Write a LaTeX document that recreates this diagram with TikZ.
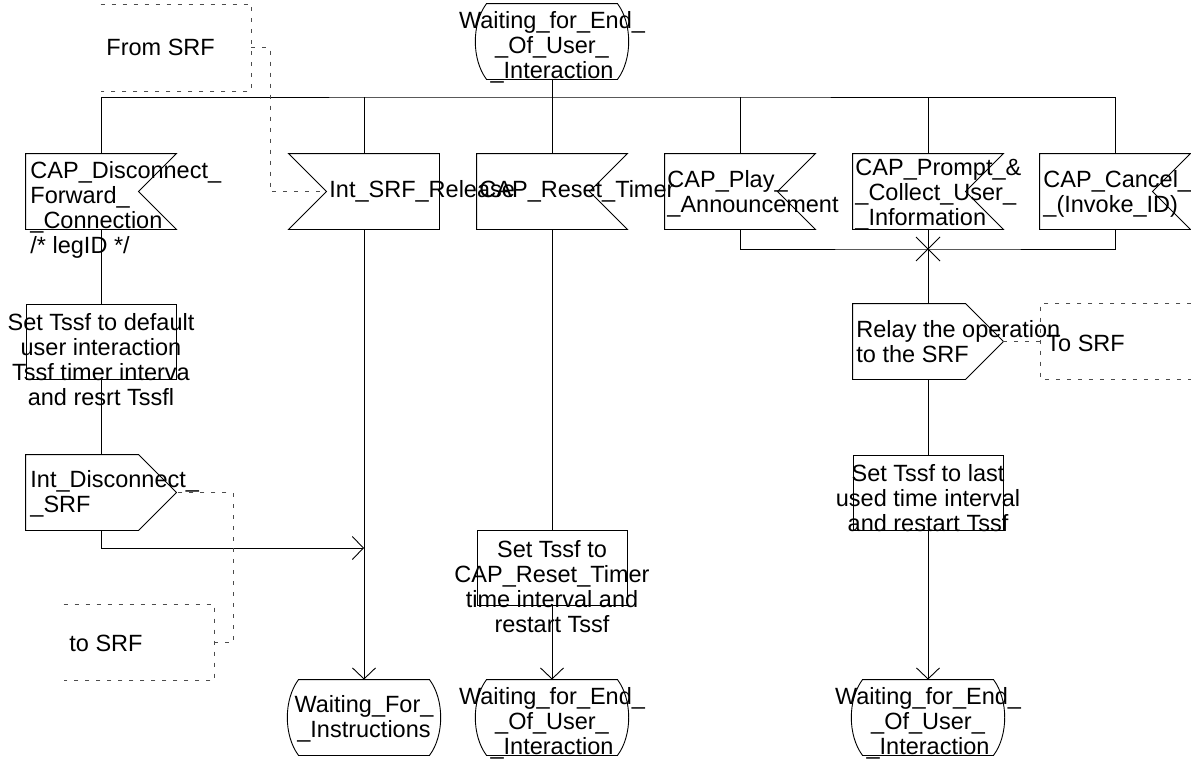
\documentclass[tikz,border=0pt]{standalone}
\usepackage{fontspec}
\setmainfont{Liberation Sans}
\usetikzlibrary{arrows.meta}

\tikzset{
  blk/.style={rectangle,minimum width=150pt,minimum height=75pt,inner sep=0pt},
  tsk/.style={blk,draw},
  txt/.style={inner sep=0pt,font=\fontsize{23.5}{25}\selectfont},
  cmt/.style={draw=black!70,dash pattern=on 4pt off 7pt},
  arr/.style={-{Straight Barb[length=11pt,width=23pt]}}
}

% outlines of the SDL symbols, drawn round a named blk node
\newcommand{\insigR}[1]{\draw (#1.north west) -- (#1.north east) -- ([xshift=-38pt]#1.east) -- (#1.south east) -- (#1.south west) -- cycle;}
\newcommand{\insigL}[1]{\draw (#1.north east) -- (#1.north west) -- ([xshift=38pt]#1.west) -- (#1.south west) -- (#1.south east) -- cycle;}
\newcommand{\outsig}[1]{\draw (#1.north west) -- ([xshift=-38pt]#1.north east) -- (#1.east) -- ([xshift=-38pt]#1.south east) -- (#1.south west) -- cycle;}
\newcommand{\stateshape}[1]{\draw ([xshift=10pt]#1.north west) -- ([xshift=-10pt]#1.north east)
  .. controls ([xshift=5pt,yshift=-20pt]#1.north east) and ([xshift=5pt,yshift=20pt]#1.south east) .. ([xshift=-10pt]#1.south east)
  -- ([xshift=10pt]#1.south west)
  .. controls ([xshift=-5pt,yshift=20pt]#1.south west) and ([xshift=-5pt,yshift=-20pt]#1.north west) .. cycle;}

\begin{document}
\begin{tikzpicture}[x=1pt,y=-1pt,line width=0.9pt]
\useasboundingbox (0,0) rectangle (1191,761);

% top state
\node[blk] (st0) at (552,41.5) {};
\stateshape{st0}
\node[txt,align=center] (st0t) at ([yshift=-6pt]st0) {Waiting\_for\_End\_\\\_Of\_User\_\\\_Interaction};

% inputs
\node[blk] (dis) at (101,191.5) {};
\node[blk] (rel) at (364,191.5) {};
\node[blk] (rst) at (552,191.5) {};
\node[blk] (ply) at (740,191.5) {};
\node[blk] (pmt) at (928,191.5) {};
\node[blk] (cnl) at (1115,191.5) {};
\insigR{dis}
\insigL{rel}
\insigR{rst}
\insigR{ply}
\insigR{pmt}
\insigR{cnl}
\node[txt,align=left,anchor=north west] (dist) at (30,161) {CAP\_Disconnect\_\\Forward\_\\\_Connection\\/* legID */};
\node[txt,anchor=west] (relt) at (329,191.5) {Int\_SRF\_Release};
\node[txt,anchor=west] (rstt) at (479,191.5) {CAP\_Reset\_Timer};
\node[txt,align=left,anchor=west] (plyt) at (667,194) {CAP\_Play\_\\\_Announcement};
\node[txt,align=left,anchor=west] (pmtt) at (855,195) {CAP\_Prompt\_\&\\\_Collect\_User\_\\\_Information};
\node[txt,align=left,anchor=west] (cnlt) at (1043,194) {CAP\_Cancel\_\\\_(Invoke\_ID)};

% bus under the top state
\coordinate (bus) at (552,97);
\draw (st0.south) -- (bus);
\draw (dis.north) |- (bus) -| (cnl.north);
\foreach \n in {rel,rst,ply,pmt} \draw (\n.north) -- (\n.north |- bus);

% left branch
\node[tsk] (tsk1) at (101,341.5) {};
\node[txt,align=center] (tsk1t) at (101,360) {Set Tssf to default\\user interaction\\Tssf timer interva\\and resrt Tssfl};
\node[blk] (ids) at (101,492.5) {};
\outsig{ids}
\node[txt,align=left,anchor=west] (idst) at (30,494) {Int\_Disconnect\_\\\_SRF};
\node[blk] (wfi) at (364,717.5) {};
\stateshape{wfi}
\node[txt,align=center] (wfit) at ([yshift=-1pt]wfi) {Waiting\_For\_\\\_Instructions};
\coordinate (mrg) at (364,548);
\draw (dis.south) -- (tsk1.north);
\draw (tsk1.south) -- (ids.north);
\draw[arr] (ids.south) |- (mrg);
\draw[arr] (rel.south) -- (wfi.north);

% middle branch
\node[tsk] (tsk2) at (552,567.5) {};
\node[txt,align=center] (tsk2t) at (552,586.5) {Set Tssf to\\CAP\_Reset\_Timer\\time interval and\\restart Tssf};
\node[blk] (st2) at (552,717.5) {};
\stateshape{st2}
\node[txt,align=center] (st2t) at ([yshift=-6pt]st2) {Waiting\_for\_End\_\\\_Of\_User\_\\\_Interaction};
\draw (rst.south) -- (tsk2.north);
\draw[arr] (tsk2.south) -- (st2.north);

% right branch
\coordinate (jn) at (928,249);
\draw (ply.south) |- (jn) -| (cnl.south);
\draw (pmt.south) -- (jn);
\draw ([shift={(-12,-12)}]jn) -- ([shift={(12,12)}]jn) ([shift={(-12,12)}]jn) -- ([shift={(12,-12)}]jn);
\node[blk] (rly) at (928,341.5) {};
\outsig{rly}
\node[txt,align=left,anchor=west] (rlyt) at (856,341.5) {Relay the operation\\to the SRF};
\draw (jn) -- (rly.north);
\node[tsk] (tsk3) at (928,492.5) {};
\node[txt,align=center] (tsk3t) at (928,498) {Set Tssf to last\\used time interval\\and restart Tssf};
\node[blk] (st3) at (928,717.5) {};
\stateshape{st3}
\node[txt,align=center] (st3t) at ([yshift=-6pt]st3) {Waiting\_for\_End\_\\\_Of\_User\_\\\_Interaction};
\draw (rly.south) -- (tsk3.north);
\draw[arr] (tsk3.south) -- (st3.north);

% comments
\node[blk,minimum height=86pt] (c1) at (176,47.5) {};
\draw[cmt] (c1.north west) -- (c1.north east) -- (c1.south east) -- (c1.south west);
\node[txt,anchor=west] (c1t) at (106,47) {From SRF};
\coordinate (relin) at ([xshift=38pt]rel.west);
\draw[cmt] (c1.east) -- ++(19,0) |- (relin);

\node[blk] (c2) at (1116,341.5) {};
\draw[cmt] (c2.north east) -- (c2.north west) -- (c2.south west) -- (c2.south east);
\node[txt,anchor=west] (c2t) at (1046,343) {To SRF};
\draw[cmt] (rly.east) -- (c2.west);

\node[blk] (c3) at (139,642.5) {};
\draw[cmt] (c3.north west) -- (c3.north east) -- (c3.south east) -- (c3.south west);
\node[txt,anchor=west] (c3t) at (69,643) {to SRF};
\draw[cmt] (c3.east) -- ++(19,0) |- (ids.east);
\end{tikzpicture}
\end{document}
